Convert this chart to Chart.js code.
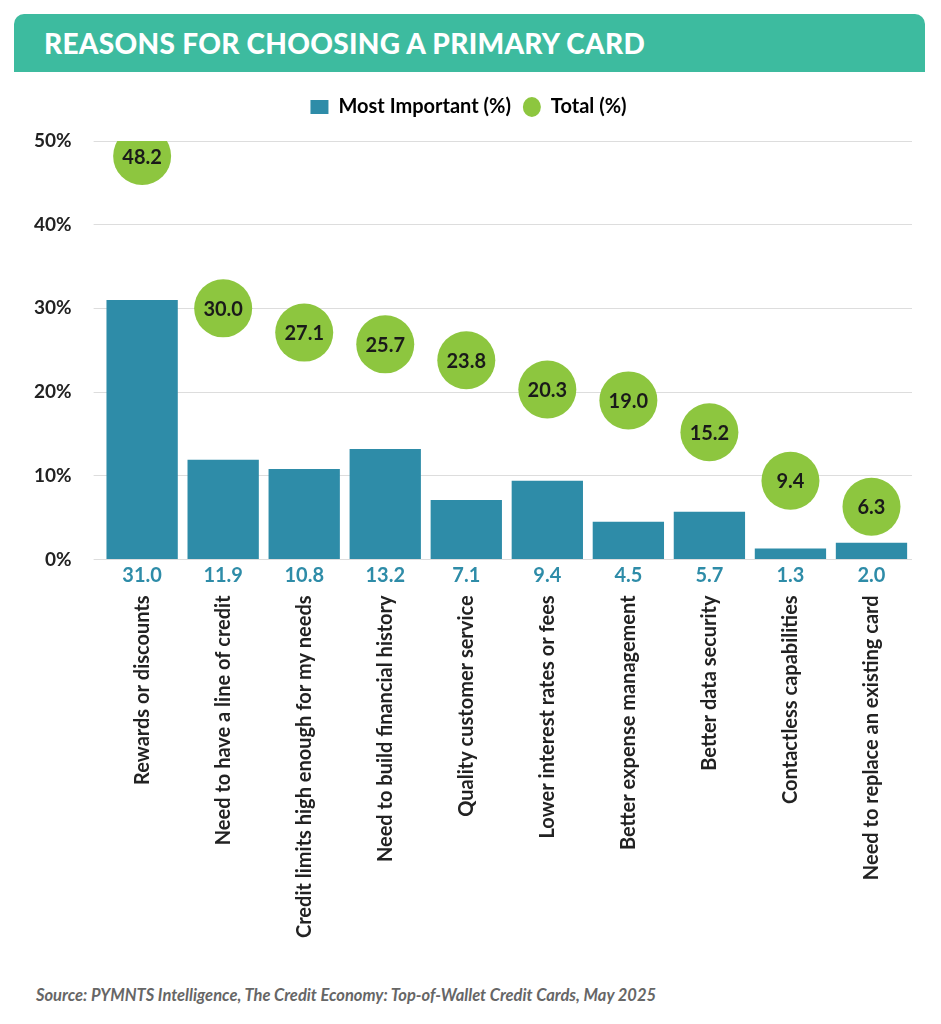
<!DOCTYPE html>
<html><head><meta charset="utf-8">
<script src="https://cdn.jsdelivr.net/npm/chart.js@4"></script>
<style>
body{margin:0;background:#fff;font-family:Lato,sans-serif;}
#hdr{position:absolute;left:14px;top:14px;width:911px;height:58px;background:#3dbb9f;border-radius:10px 10px 0 0;}
#hdr span{position:absolute;left:30px;top:12px;color:#fff;font-weight:900;font-size:28px;letter-spacing:0.3px;}
#wrap{position:absolute;left:0;top:85px;width:941px;height:881px;}
#src{position:absolute;left:36px;top:985px;font-style:italic;font-weight:bold;font-size:16.5px;color:#666;}
</style></head><body>
<div id="hdr"><span>REASONS FOR CHOOSING A PRIMARY CARD</span></div>
<div id="wrap"><canvas id="c"></canvas></div>
<div id="src">Source: PYMNTS Intelligence, The Credit Economy: Top-of-Wallet Credit Cards, May 2025</div>
<script>
const categories=["Rewards or discounts","Need to have a line of credit","Credit limits high enough for my needs","Need to build financial history","Quality customer service","Lower interest rates or fees","Better expense management","Better data security","Contactless capabilities","Need to replace an existing card"];
const mostImportant=[31.0,11.9,10.8,13.2,7.1,9.4,4.5,5.7,1.3,2.0];
const total=[48.2,30.0,27.1,25.7,23.8,20.3,19.0,15.2,9.4,6.3];
const yTicks=[0,10,20,30,40,50];
const labelsPlugin={id:'lbl',afterDatasetsDraw(ch){
 const c=ch.ctx;c.save();c.textAlign='center';c.textBaseline='middle';
 const b=ch.getDatasetMeta(0).data, p=ch.getDatasetMeta(1).data;
 c.font='bold 20px Lato';c.fillStyle='#2e8ca8';
 b.forEach((e,i)=>c.fillText(mostImportant[i].toFixed(1),e.x,ch.scales.y.bottom+16));
 c.font='bold 20px Lato';c.fillStyle='#1a1a1a';
 p.forEach((e,i)=>c.fillText(total[i].toFixed(1),e.x,e.y+1));
 c.restore();}};
const legendPad={id:'lp',beforeInit(ch){const f=ch.legend.fit;ch.legend.fit=function(){f.bind(ch.legend)();this.height+=14;};}};
new Chart(document.getElementById('c'),{
 data:{labels:categories,datasets:[
  {type:'bar',label:'Most Important (%)',data:mostImportant,backgroundColor:'#2e8ca8',categoryPercentage:0.88,barPercentage:1,order:2},
  {type:'line',label:'Total (%)',data:total,showLine:false,pointRadius:29,pointHoverRadius:29,pointBackgroundColor:'#8dc63f',pointBorderWidth:0,backgroundColor:'#8dc63f',order:1}]},
 options:{responsive:true,maintainAspectRatio:false,animation:false,
  layout:{padding:{left:12,right:16,top:0,bottom:0}},
  plugins:{tooltip:{enabled:false},legend:{position:'top',labels:{boxWidth:14,boxHeight:14,font:{family:'Lato',size:20,weight:'bold'},color:'#222',
   generateLabels(ch){return [{text:'Most Important (%)',fillStyle:'#2e8ca8',strokeStyle:'#2e8ca8',lineWidth:0,pointStyle:'rect',datasetIndex:0},{text:'Total (%)',fillStyle:'#8dc63f',strokeStyle:'#8dc63f',lineWidth:0,pointStyle:'circle',datasetIndex:1}]},usePointStyle:true,pointStyleWidth:18,padding:12}}},
  scales:{
   x:{grid:{display:false},border:{display:false},ticks:{minRotation:90,maxRotation:90,padding:28,color:'#222',font:{family:'Lato',size:20,weight:'bold'}}},
   y:{min:0,max:50,afterBuildTicks(s){s.ticks=yTicks.map(v=>({value:v}));},grid:{color:'#ddd'},border:{display:false},ticks:{padding:22,color:'#222',callback:v=>v+'%',font:{family:'Lato',size:19,weight:'bold'}}}}},
 plugins:[labelsPlugin,legendPad]});
</script></body></html>
